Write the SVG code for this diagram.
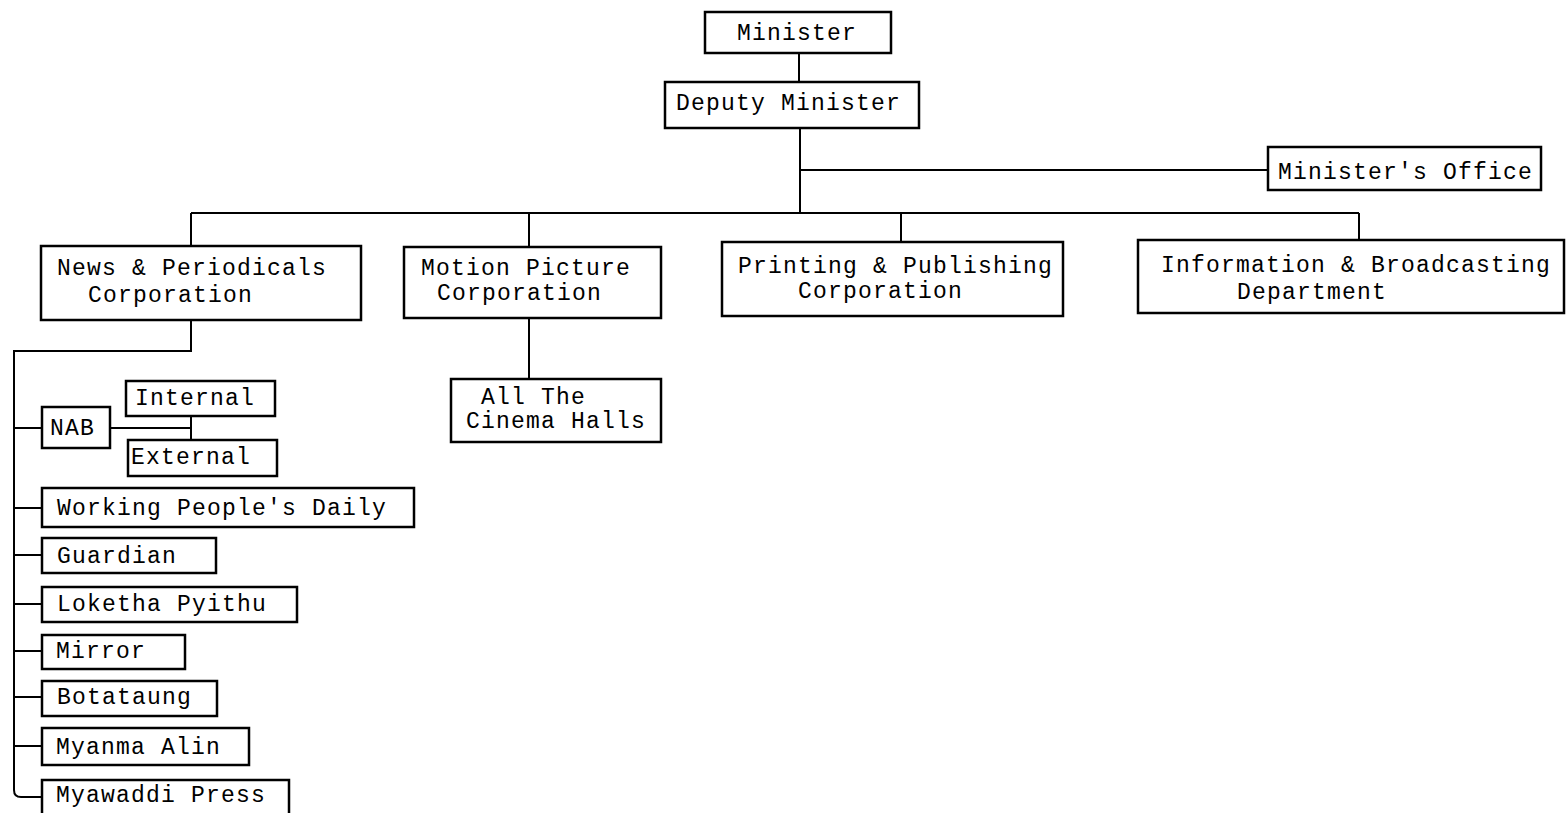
<svg xmlns="http://www.w3.org/2000/svg" width="1566" height="813" viewBox="0 0 1566 813">
<style>
.b{fill:#fff;stroke:#000;stroke-width:2.5}
.t{font-family:"Liberation Mono","Courier New",monospace;font-size:23px;letter-spacing:1.2px;fill:#000}
.c{fill:none;stroke:#000;stroke-width:2}
</style>
<rect width="1566" height="813" fill="#fff"/>
<g id="connectors">
<path class="c" d="M799 53V83M800 128V213M800 170H1268M191 213H1359M191 213V246M529 213V247M901 213V242M1359 213V240"/>
<path class="c" d="M529 318V379"/>
<path class="c" d="M191 320V351H14V790Q14 797 21 797H42"/>
<path class="c" d="M14 428H42M110 428H191M191 416V440"/>
<path class="c" d="M14 508H42M14 555H42M14 604H42M14 651H42M14 697H42M14 746H42"/>
</g>
<g id="minister"><rect class="b" x="705" y="12" width="186" height="41"/><text class="t" x="737" y="40">Minister</text></g>
<g id="deputy"><rect class="b" x="665" y="82" width="254" height="46"/><text class="t" x="676" y="110">Deputy Minister</text></g>
<g id="office"><rect class="b" x="1268" y="147" width="273" height="43"/><text class="t" x="1278" y="179">Minister's Office</text></g>
<g id="news"><rect class="b" x="41" y="246" width="320" height="74"/><text class="t" x="57" y="275">News &amp; Periodicals</text><text class="t" x="88" y="302">Corporation</text></g>
<g id="motion"><rect class="b" x="404" y="247" width="257" height="71"/><text class="t" x="421" y="275">Motion Picture</text><text class="t" x="437" y="300">Corporation</text></g>
<g id="printing"><rect class="b" x="722" y="242" width="341" height="74"/><text class="t" x="738" y="273">Printing &amp; Publishing</text><text class="t" x="798" y="298">Corporation</text></g>
<g id="info"><rect class="b" x="1138" y="240" width="426" height="73"/><text class="t" x="1161" y="272">Information &amp; Broadcasting</text><text class="t" x="1237" y="299">Department</text></g>
<g id="cinema"><rect class="b" x="451" y="379" width="210" height="63"/><text class="t" x="481" y="404">All The</text><text class="t" x="466" y="428">Cinema Halls</text></g>
<g id="nab"><rect class="b" x="42" y="407" width="68" height="41"/><text class="t" x="50" y="435">NAB</text></g>
<g id="internal"><rect class="b" x="126" y="381" width="149" height="35"/><text class="t" x="135" y="405">Internal</text></g>
<g id="external"><rect class="b" x="128" y="440" width="149" height="36"/><text class="t" x="131" y="464">External</text></g>
<g id="wpd"><rect class="b" x="42" y="488" width="372" height="39"/><text class="t" x="57" y="515">Working People's Daily</text></g>
<g id="guardian"><rect class="b" x="42" y="538" width="174" height="35"/><text class="t" x="57" y="563">Guardian</text></g>
<g id="loketha"><rect class="b" x="42" y="587" width="255" height="35"/><text class="t" x="57" y="611">Loketha Pyithu</text></g>
<g id="mirror"><rect class="b" x="42" y="635" width="143" height="34"/><text class="t" x="56" y="658">Mirror</text></g>
<g id="botataung"><rect class="b" x="42" y="681" width="175" height="35"/><text class="t" x="57" y="704">Botataung</text></g>
<g id="myanma"><rect class="b" x="42" y="728" width="207" height="37"/><text class="t" x="56" y="754">Myanma Alin</text></g>
<g id="myawaddi"><rect class="b" x="42" y="780" width="247" height="40"/><text class="t" x="56" y="802">Myawaddi Press</text></g>
</svg>
